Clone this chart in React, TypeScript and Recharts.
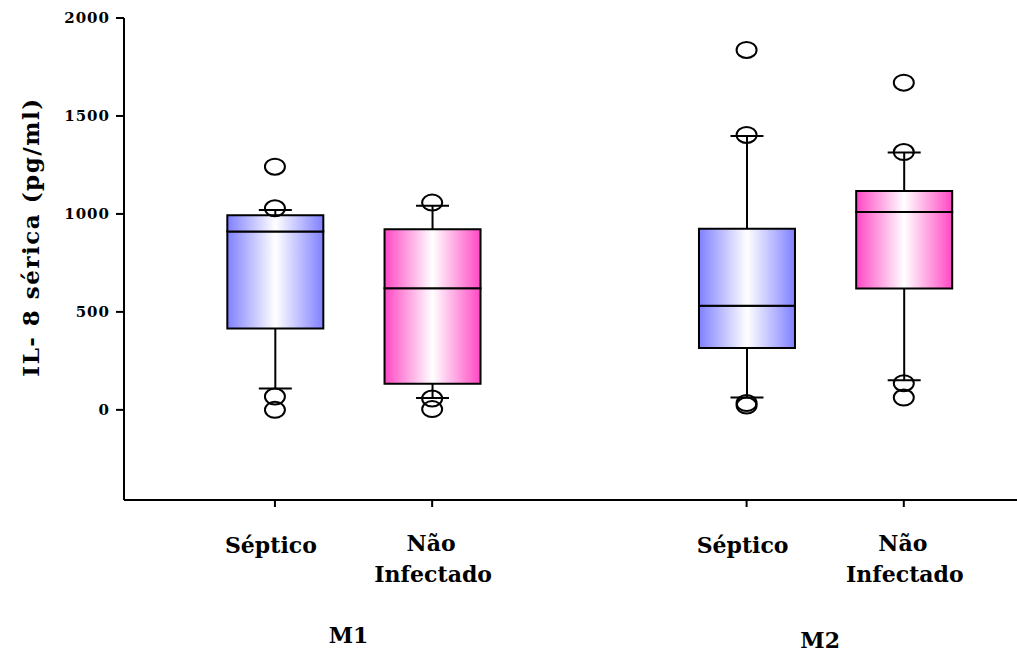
import { ComposedChart, Bar, Scatter, XAxis, YAxis, Cell, Label } from "recharts";

const FONT = "'DejaVu Serif', serif";

// one entry per box, left to right
const categories = ["Séptico", "Não Infectado", "Séptico", "Não Infectado"];
const xPos = [1, 2, 4, 5];
const kinds = ["septic", "clean", "septic", "clean"];
const whiskerLow = [109, 60, 63, 151];
const q1 = [415, 133, 316, 619];
const median = [910, 621, 531, 1010];
const q3 = [993, 922, 925, 1117];
const whiskerHigh = [1020, 1042, 1398, 1313];
const outliers = [
  [1241, 1029, 68, 0],
  [1058, 58, 4],
  [1837, 1403, 35, 22],
  [1670, 1316, 136, 63],
];

const groupLabels = ["M1", "M2"];
const groupPos = [1.5, 4.5];
const yTicks = [0, 500, 1000, 1500, 2000];

const fills: Record<string, string> = { septic: "url(#gradSeptic)", clean: "url(#gradClean)" };

// stacked pieces: invisible base, lower whisker, two box halves, upper whisker
const boxData = xPos.map((x, i) => ({
  x,
  kind: kinds[i],
  base: whiskerLow[i],
  lw: q1[i] - whiskerLow[i],
  lowBox: median[i] - q1[i],
  highBox: q3[i] - median[i],
  uw: whiskerHigh[i] - q3[i],
}));

const outlierData = outliers.flatMap((vals, i) => vals.map((v) => ({ x: xPos[i], y: v })));

const CAP = 33;
const X_DOMAIN = [0.04, 5.72];

function Whisker(props: any, capAtTop: boolean) {
  const { x, y, width, height } = props;
  const cx = x + width / 2;
  const capY = capAtTop ? y : y + height;
  return (
    <g>
      <line x1={cx} x2={cx} y1={y} y2={y + height} stroke="#000" strokeWidth={2} />
      <line x1={cx - CAP / 2} x2={cx + CAP / 2} y1={capY} y2={capY} stroke="#000" strokeWidth={2} />
    </g>
  );
}

function Ring(props: any) {
  const { cx, cy } = props;
  return <ellipse cx={cx} cy={cy} rx={10} ry={8} fill="none" stroke="#000" strokeWidth={2} />;
}

const labelStyle = { fontFamily: FONT, fontWeight: 700, fontSize: 22, fill: "#000" };

function CategoryTick(props: any) {
  const { x, payload } = props;
  const idx = xPos.indexOf(payload.value);
  const label = categories[idx] ?? "";
  const words = label.split(" ");
  if (words.length === 1) {
    return (
      <text x={x - 4} y={553} textAnchor="middle" {...labelStyle}>
        {label}
      </text>
    );
  }
  return (
    <g>
      <text x={x - 1} y={551} textAnchor="middle" {...labelStyle}>
        {words[0]}
      </text>
      <text x={x + 1} y={582} textAnchor="middle" {...labelStyle}>
        {words[1]}
      </text>
    </g>
  );
}

function GroupTick(props: any) {
  const { x, payload } = props;
  const idx = groupPos.indexOf(payload.value);
  return (
    <text x={x - 5} y={idx === 1 ? 648 : 643} textAnchor="middle" {...labelStyle}>
      {groupLabels[idx]}
    </text>
  );
}

function YTitle(props: any) {
  const { viewBox } = props;
  const cx = viewBox.x + viewBox.width - 94;
  const cy = 237;
  return (
    <text
      x={cx}
      y={cy}
      transform={`rotate(-90 ${cx} ${cy})`}
      textAnchor="middle"
      dominantBaseline="central"
      fontFamily={FONT}
      fontWeight={700}
      fontSize={23}
      letterSpacing={1.5}
      fill="#000"
    >
      IL- 8 sérica (pg/ml)
    </text>
  );
}

export default function App() {
  return (
    <div style={{ position: "absolute", left: 0, top: 0, width: 1017, height: 654, background: "#fff" }}>
      <ComposedChart width={1017} height={654} data={boxData} margin={{ top: 18, right: 0, bottom: 0, left: 0 }}>
        <defs>
          <linearGradient id="gradSeptic" x1="0" y1="0" x2="1" y2="0">
            <stop offset="0" stopColor="#8080ff" />
            <stop offset="0.5" stopColor="#ffffff" />
            <stop offset="1" stopColor="#8080ff" />
          </linearGradient>
          <linearGradient id="gradClean" x1="0" y1="0" x2="1" y2="0">
            <stop offset="0" stopColor="#ff48c4" />
            <stop offset="0.5" stopColor="#ffffff" />
            <stop offset="1" stopColor="#ff48c4" />
          </linearGradient>
        </defs>
        <XAxis
          dataKey="x"
          type="number"
          domain={X_DOMAIN}
          ticks={xPos}
          allowDataOverflow
          height={100}
          axisLine={{ stroke: "#000", strokeWidth: 2 }}
          tickLine={{ stroke: "#000", strokeWidth: 2 }}
          tickSize={7}
          tick={<CategoryTick />}
          interval={0}
        />
        <XAxis
          xAxisId="grp"
          dataKey="x"
          type="number"
          domain={X_DOMAIN}
          ticks={groupPos}
          allowDataOverflow
          height={54}
          axisLine={false}
          tickLine={false}
          tick={<GroupTick />}
          interval={0}
        />
        <YAxis
          type="number"
          domain={[-460, 2000]}
          ticks={yTicks}
          allowDataOverflow
          width={124}
          axisLine={{ stroke: "#000", strokeWidth: 2 }}
          tickLine={{ stroke: "#000", strokeWidth: 2 }}
          tickSize={8}
          tickMargin={6}
          interval={0}
          tick={{ fill: "#000", fontSize: 15, fontWeight: 700, fontFamily: FONT, letterSpacing: 1 }}
        >
          <Label content={<YTitle />} />
        </YAxis>
        <Bar dataKey="base" stackId="b" barSize={96} fill="none" isAnimationActive={false} />
        <Bar
          dataKey="lw"
          stackId="b"
          barSize={96}
          shape={(p: any) => Whisker(p, false)}
          isAnimationActive={false}
        />
        <Bar dataKey="lowBox" stackId="b" barSize={96} stroke="#000" strokeWidth={2} isAnimationActive={false}>
          {boxData.map((d, i) => (
            <Cell key={i} fill={fills[d.kind]} />
          ))}
        </Bar>
        <Bar dataKey="highBox" stackId="b" barSize={96} stroke="#000" strokeWidth={2} isAnimationActive={false}>
          {boxData.map((d, i) => (
            <Cell key={i} fill={fills[d.kind]} />
          ))}
        </Bar>
        <Bar
          dataKey="uw"
          stackId="b"
          barSize={96}
          shape={(p: any) => Whisker(p, true)}
          isAnimationActive={false}
        />
        <Scatter data={outlierData} dataKey="y" shape={<Ring />} isAnimationActive={false} />
      </ComposedChart>
    </div>
  );
}
